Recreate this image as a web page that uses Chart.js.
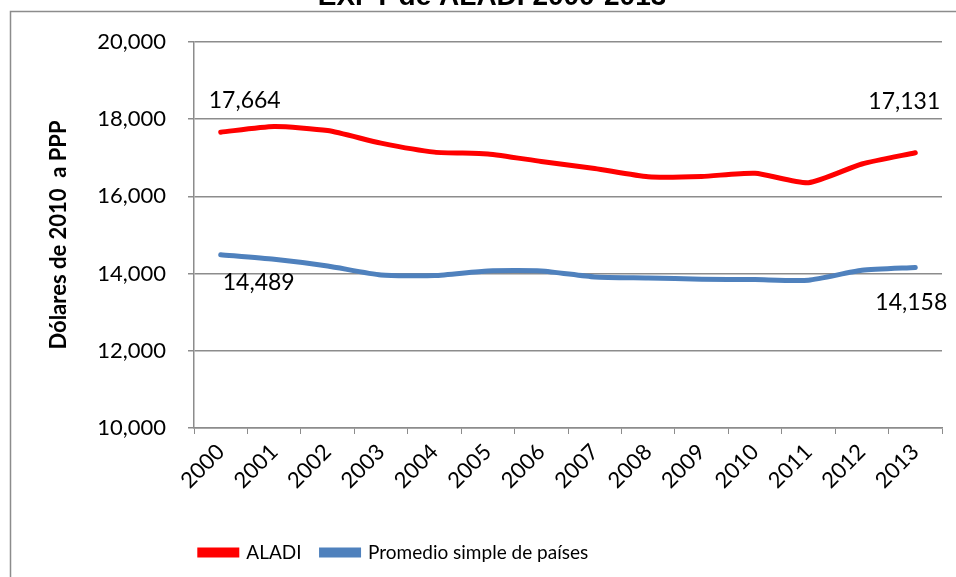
<!DOCTYPE html>
<html>
<head>
<meta charset="utf-8">
<script src="https://cdn.jsdelivr.net/npm/chart.js@4.4.1/dist/chart.umd.min.js"></script>
<style>
  html, body { margin: 0; padding: 0; background: #fff; }
  #wrap { width: 956px; height: 577px; position: relative; }
</style>
</head>
<body>
<div id="wrap"><canvas id="myChart" width="956" height="577"></canvas></div>
<script>
// --- données ---
const years = ['2000','2001','2002','2003','2004','2005','2006','2007','2008','2009','2010','2011','2012','2013'];
const aladi = [17664, 17810, 17705, 17380, 17147, 17100, 16905, 16725, 16510, 16517, 16600, 16355, 16840, 17131];
const promedio = [14489, 14370, 14197, 13965, 13948, 14069, 14069, 13912, 13887, 13855, 13845, 13830, 14085, 14158];
const yTicks = [10000, 12000, 14000, 16000, 18000, 20000];
const titleText = 'EXPT de ALADI 2000-2013';
const yTitle = 'Dólares de 2010  a PPP';

const FONT = "'Lato', sans-serif";
const GRID = '#8c8c8c';

// cadre + titre coupé en haut
const framePlugin = {
  id: 'frame',
  afterLayout(chart) {
    // la légende est décalée vers la gauche dans l'original
    const lg = chart.legend;
    if (lg) { lg.left -= 100; lg.right -= 100; }
  },
  beforeDraw(chart) {
    const c = chart.ctx;
    c.save();
    c.fillStyle = '#fff';
    c.fillRect(0, 0, chart.width, chart.height);
    c.strokeStyle = '#8c8c8c';
    c.lineWidth = 1.5;
    c.beginPath();
    c.moveTo(10.5, 600); c.lineTo(10.5, 11.5); c.lineTo(960, 11.5);
    c.stroke();
    c.fillStyle = '#000';
    c.font = "bold 28px 'Liberation Sans', Arial, sans-serif";
    c.textAlign = 'center';
    c.textBaseline = 'alphabetic';
    c.fillText(titleText, 492, 5);
    c.restore();
  }
};

// étiquettes de première et dernière valeur
const labelPlugin = {
  id: 'endLabels',
  afterDatasetsDraw(chart) {
    const c = chart.ctx;
    const spots = [
      { ds: 0, i: 0, dx: 24, dy: -32 },
      { ds: 1, i: 0, dx: 38, dy: 28 },
      { ds: 0, i: years.length - 1, dx: -11, dy: -51 },
      { ds: 1, i: years.length - 1, dx: -4, dy: 35 }
    ];
    c.save();
    c.fillStyle = '#000';
    c.font = "23px " + FONT;
    c.textAlign = 'center';
    c.textBaseline = 'middle';
    spots.forEach(s => {
      const pt = chart.getDatasetMeta(s.ds).data[s.i];
      const v = chart.data.datasets[s.ds].data[s.i];
      c.fillText(v.toLocaleString('en-US'), pt.x + s.dx, pt.y + s.dy);
    });
    c.restore();
  }
};

new Chart(document.getElementById('myChart'), {
  type: 'line',
  data: {
    labels: years,
    datasets: [
      { label: 'ALADI', data: aladi, borderColor: '#ff0000', backgroundColor: '#ff0000',
        borderWidth: 5, pointRadius: 0, tension: 0.2, borderCapStyle: 'round' },
      { label: 'Promedio simple de países', data: promedio, borderColor: '#4f81bd', backgroundColor: '#4f81bd',
        borderWidth: 5, pointRadius: 0, tension: 0.2, borderCapStyle: 'round' }
    ]
  },
  options: {
    responsive: false, animation: false,
    layout: { padding: { top: 42, right: 14, bottom: 5, left: 46 } },
    scales: {
      x: {
        offset: true,
        grid: { offset: true, drawOnChartArea: false, color: GRID, tickLength: 6 },
        border: { color: GRID, width: 1.5 },
        ticks: { color: '#000', font: { family: FONT, size: 22 }, maxRotation: 45, minRotation: 45, padding: 5 },
        afterFit: s => { s.height = 95; }
      },
      y: {
        min: 10000, max: 20000,
        afterBuildTicks: s => { s.ticks = yTicks.map(v => ({ value: v })); },
        grid: { color: GRID, lineWidth: 1.5, tickLength: 6 },
        border: { color: GRID, width: 1.5 },
        ticks: { color: '#000', font: { family: FONT, size: 22 }, padding: 22,
                 callback: v => v.toLocaleString('en-US') },
        title: { display: true, text: yTitle, color: '#000',
                 font: { family: FONT, size: 22, weight: 'bold' }, padding: 0 },
        afterFit: s => { s.width = 148; }
      }
    },
    plugins: {
      legend: {
        position: 'bottom',
        labels: { color: '#000', font: { family: FONT, size: 19 }, boxWidth: 37, boxHeight: 5, padding: 20 }
      },
      tooltip: { enabled: false }
    }
  },
  plugins: [framePlugin, labelPlugin]
});
</script>
</body>
</html>
